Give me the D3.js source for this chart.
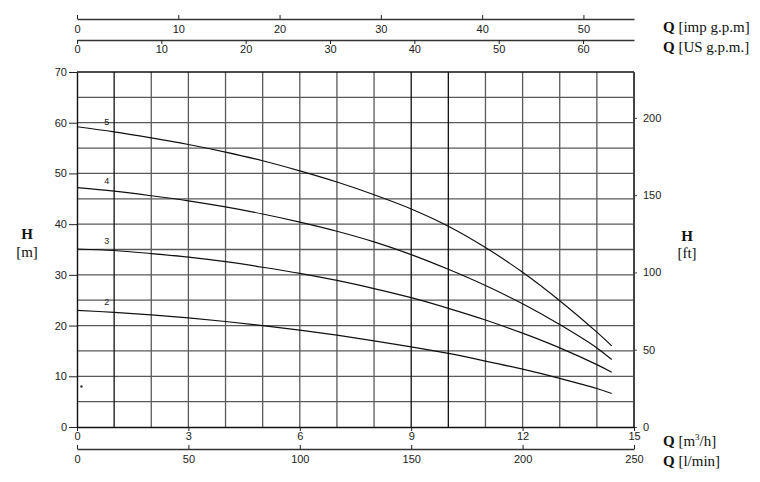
<!DOCTYPE html>
<html>
<head>
<meta charset="utf-8">
<script src="https://cdn.jsdelivr.net/npm/d3@7"></script>
<style>
  body { margin: 0; background: #fff; }
  svg { display: block; }
  .tick text { font-family: "Liberation Sans", Arial, sans-serif; font-size: 11px; fill: #222; }
  .ttl { font-family: "Liberation Serif", "DejaVu Serif", serif; font-size: 15px; fill: #111; }
</style>
</head>
<body>
<div id="chart"></div>
<script>
// flow in m3/h, head in m
var flow = [0, 1, 2, 3, 4, 5, 6, 7, 8, 9, 10, 11, 12, 13, 14, 14.4];
var head5 = [59.2, 58.2, 57.0, 55.7, 54.2, 52.5, 50.5, 48.3, 45.8, 43.0, 39.6, 35.4, 30.5, 24.9, 18.7, 16.0];
var head4 = [47.2, 46.5, 45.6, 44.6, 43.4, 42.0, 40.4, 38.6, 36.5, 34.0, 31.1, 27.9, 24.3, 20.2, 15.6, 13.3];
var head3 = [35.1, 34.8, 34.2, 33.5, 32.6, 31.5, 30.3, 28.9, 27.3, 25.5, 23.4, 21.1, 18.5, 15.6, 12.3, 10.8];
var head2 = [23.0, 22.6, 22.1, 21.5, 20.8, 20.0, 19.1, 18.1, 17.0, 15.8, 14.5, 13.0, 11.4, 9.6, 7.6, 6.6];
var curveNames = ["5", "4", "3", "2"];

var m3hTicks = [0, 3, 6, 9, 12, 15];
var lminTicks = [0, 50, 100, 150, 200, 250];
var impTicks = [0, 10, 20, 30, 40, 50];
var usTicks = [0, 10, 20, 30, 40, 50, 60];
var mTicks = [0, 10, 20, 30, 40, 50, 60, 70];
var ftTicks = [0, 50, 100, 150, 200];

(function () {
var W = 760, H = 482;
var pl = 77, pr = 634, pt = 72, pb = 427;
var qMax = 15, hMax = 70;

var svg = d3.select("#chart").append("svg").attr("width", W).attr("height", H);

/* Scales */
var x = d3.scaleLinear().domain([0, qMax]).range([pl, pr]);
var y = d3.scaleLinear().domain([0, hMax]).range([pb, pt]);
var xLmin = d3.scaleLinear().domain([0, qMax * 1000 / 60]).range([pl, pr]);
var xImp = d3.scaleLinear().domain([0, qMax * 1000 / 60 / 4.54609]).range([pl, pr]);
var xUs = d3.scaleLinear().domain([0, qMax * 1000 / 60 / 3.78541]).range([pl, pr]);
var yFt = d3.scaleLinear().domain([0, hMax / 0.3048]).range([pb, pt]);

/* grid */
var grid = svg.append("g").attr("stroke", "#5a5a5a").attr("stroke-width", 1.3);
grid.selectAll(".hg").data(d3.range(5, hMax, 5)).enter().append("line")
  .attr("x1", pl).attr("x2", pr)
  .attr("y1", d => y(d)).attr("y2", d => y(d));
grid.selectAll(".vg").data(d3.range(1, qMax, 1)).enter().append("line")
  .attr("y1", pt).attr("y2", pb)
  .attr("x1", d => x(d)).attr("x2", d => x(d))
  .attr("stroke", d => (d === 1 || d === 9 || d === 10) ? "#111" : "#5a5a5a");

/* frame */
svg.append("line").attr("x1", pl).attr("x2", pr).attr("y1", pt).attr("y2", pt)
  .attr("stroke", "#111").attr("stroke-width", 1.3);
svg.append("line").attr("x1", pr).attr("x2", pr).attr("y1", pt).attr("y2", pb)
  .attr("stroke", "#444").attr("stroke-width", 2);

function styleAxis(g, col) {
  g.select(".domain").attr("stroke", col || "#222").attr("stroke-width", 1.4);
  g.selectAll(".tick line").attr("stroke", "#222");
}

/* left H [m] */
svg.append("g").attr("transform", `translate(${pl},0)`)
  .call(d3.axisLeft(y).tickValues(mTicks).tickSize(8).tickSizeOuter(0).tickPadding(2))
  .call(g => styleAxis(g, "#111"));

/* right H [ft] */
svg.append("g").attr("transform", `translate(${pr},0)`)
  .call(d3.axisRight(yFt).tickValues(ftTicks).tickSize(3).tickSizeOuter(0).tickPadding(6))
  .call(g => g.select(".domain").remove())
  .call(g => g.selectAll(".tick line").attr("stroke", "#444"));

/* bottom m3/h */
svg.append("g").attr("transform", `translate(0,${pb})`)
  .call(d3.axisBottom(x).tickValues(m3hTicks).tickSize(4).tickSizeOuter(0).tickPadding(1))
  .call(g => styleAxis(g, "#111"));

/* bottom l/min */
svg.append("g").attr("transform", `translate(0,449)`)
  .call(d3.axisBottom(xLmin).tickValues(lminTicks).tickSize(-4).tickSizeOuter(0).tickPadding(6))
  .call(g => styleAxis(g, "#333"));

/* top imp gpm */
svg.append("g").attr("transform", `translate(0,19)`)
  .call(d3.axisBottom(xImp).tickValues(impTicks).tickSize(-4).tickSizeOuter(0).tickPadding(6))
  .call(g => styleAxis(g, "#333"));

/* top US gpm */
svg.append("g").attr("transform", `translate(0,40)`)
  .call(d3.axisBottom(xUs).tickValues(usTicks).tickSize(4).tickSizeOuter(0).tickPadding(1))
  .call(g => styleAxis(g, "#333"));

/* curves */
var series = [head5, head4, head3, head2];
var line = d3.line().x((d, i) => x(flow[i])).y(d => y(d)).curve(d3.curveCatmullRom.alpha(0.5));
svg.append("g").selectAll("path").data(series).enter().append("path")
  .attr("d", d => line(d))
  .attr("fill", "none").attr("stroke", "#111").attr("stroke-width", 1.2);

svg.append("g").selectAll("text").data(series).enter().append("text")
  .attr("x", x(0.8)).attr("y", d => y(d[1]) - 7)
  .attr("text-anchor", "middle")
  .attr("font-family", "Liberation Sans, Arial, sans-serif").attr("font-size", 9).attr("fill", "#222")
  .text((d, i) => curveNames[i]);

svg.append("circle").attr("cx", x(0.12)).attr("cy", y(8)).attr("r", 1.2).attr("fill", "#333");

/* titles */
function title(tx, ty, q, rest, anchor) {
  var t = svg.append("text").attr("class", "ttl").attr("x", tx).attr("y", ty)
    .attr("text-anchor", anchor || "start");
  t.append("tspan").attr("font-weight", "bold").text(q);
  t.append("tspan").text(rest);
  return t;
}
title(663, 32, "Q", " [imp g.p.m]");
title(663, 52, "Q", " [US g.p.m.]");
var t3 = title(663, 446, "Q", " [m");
t3.append("tspan").attr("font-size", 9).attr("dy", -6).text("3");
t3.append("tspan").attr("dy", 6).text("/h]");
title(663, 466, "Q", " [l/min]");
title(27, 239, "H", "", "middle");
title(27, 257, "", "[m]", "middle");
title(687, 241, "H", "", "middle");
title(687, 258, "", "[ft]", "middle");
})();
</script>
</body>
</html>
